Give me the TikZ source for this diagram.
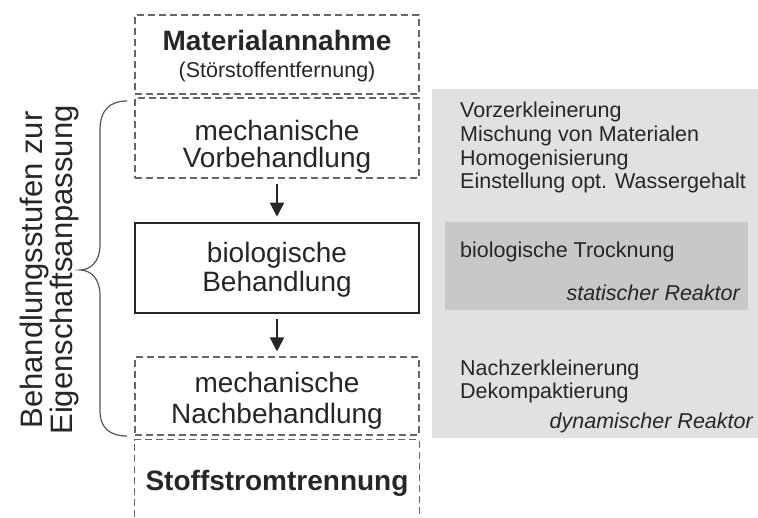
\documentclass[tikz,border=0pt]{standalone}
\usepackage{fontspec}
\setmainfont{Liberation Sans}
\usetikzlibrary{arrows.meta}
\definecolor{panelc}{HTML}{E1E1E1}
\definecolor{paneldark}{HTML}{C8C8C8}
\definecolor{txtc}{HTML}{262626}
\definecolor{dashc}{HTML}{666666}
\definecolor{bracec}{HTML}{555555}
\begin{document}
\begin{tikzpicture}[x=1pt,y=-1pt,
  dbox/.style={draw=dashc, line width=1.1pt, dash pattern=on 7pt off 4pt, minimum width=284pt, inner sep=0pt},
  sbox/.style={draw=txtc, line width=2.6pt, minimum width=284pt, inner sep=0pt},
  hidbox/.style={minimum width=284pt, inner sep=0pt},
  bigtxt/.style={anchor=base, text=txtc, inner sep=0pt, font=\fontsize{28}{30}\selectfont},
  boldtxt/.style={anchor=base, text=txtc, inner sep=0pt, font=\fontsize{28}{30}\selectfont\bfseries},
  smalltxt/.style={anchor=base, text=txtc, inner sep=0pt, font=\fontsize{21.5}{24}\selectfont},
  paneltxt/.style={anchor=base west, text=txtc, inner sep=0pt, font=\fontsize{21.5}{24}\selectfont},
  reaktor/.style={anchor=base east, text=txtc, inner sep=0pt, font=\fontsize{21.5}{24}\selectfont\itshape},
  arr/.style={draw=txtc, line width=2pt, -{Triangle[length=14pt,width=14pt]}, shorten <=5pt, shorten >=5pt},
  bracestyle/.style={draw=bracec, line width=1.2pt}
]
\useasboundingbox (0,0) rectangle (758,517);
% grey panels
\fill[panelc] (432,89) rectangle (758,438);
\fill[paneldark] (445,222) rectangle (748,310);
% boxes
\node[dbox, minimum height=79pt] (mat) at (277,54.5) {};
\node[dbox, minimum height=80pt] (vor) at (277,138) {};
\node[sbox, minimum height=90pt] (bio) at (277,268) {};
\node[dbox, minimum height=78pt] (nach) at (277,396) {};
\node[hidbox, minimum height=77pt] (stoff) at (277,478.5) {};
\draw[dashc, line width=1.1pt, dash pattern=on 7pt off 4pt] (stoff.south west) -- (stoff.north west) -- (stoff.north east) -- (stoff.south east);
% box texts
\node[boldtxt] (t1) at (277,50) {Materialannahme};
\node[smalltxt] (t2) at (277,77) {(Störstoffentfernung)};
\node[bigtxt] (t3) at (277,140) {mechanische};
\node[bigtxt] (t4) at (277,167) {Vorbehandlung};
\node[bigtxt] (t5) at (277,262) {biologische};
\node[bigtxt] (t6) at (277,291) {Behandlung};
\node[bigtxt] (t7) at (277,392) {mechanische};
\node[bigtxt] (t8) at (277,423) {Nachbehandlung};
\node[boldtxt] (t9) at (277,490) {Stoffstromtrennung};
% arrows
\draw[arr] (vor.south) -- (bio.north);
\draw[arr] (bio.south) -- (nach.north);
% panel texts
\node[paneltxt] (p1) at (460,117) {Vorzerkleinerung};
\node[paneltxt] (p2) at (460,141) {Mischung von Materialen};
\node[paneltxt] (p3) at (460,165) {Homogenisierung};
\node[paneltxt] (p4) at (460,188) {Einstellung opt. Wassergehalt};
\node[paneltxt] (p5) at (460,257) {biologische Trocknung};
\node[reaktor] (p6) at (740,300) {statischer Reaktor};
\node[paneltxt] (p7) at (460,375) {Nachzerkleinerung};
\node[paneltxt] (p8) at (460,398) {Dekompaktierung};
\node[reaktor] (p9) at (753,428) {dynamischer Reaktor};
% brace
\coordinate (btop) at (127,101);
\coordinate (btip) at (80,270);
\coordinate (bbot) at (127,436);
\draw[bracestyle] (btop) .. controls (110,101) and (100,110) .. (100,130) -- (100,245)
  .. controls (100,262) and (90,270) .. (btip)
  .. controls (90,270) and (100,278) .. (100,295) -- (100,411)
  .. controls (100,428) and (110,436) .. (bbot);
% rotated label
\node[rotate=90, align=center, text=txtc, inner sep=0pt, font=\fontsize{31}{30}\selectfont] (lbl) at (49,270) {Behandlungsstufen zur\\Eigenschaftsanpassung};
\end{tikzpicture}
\end{document}
